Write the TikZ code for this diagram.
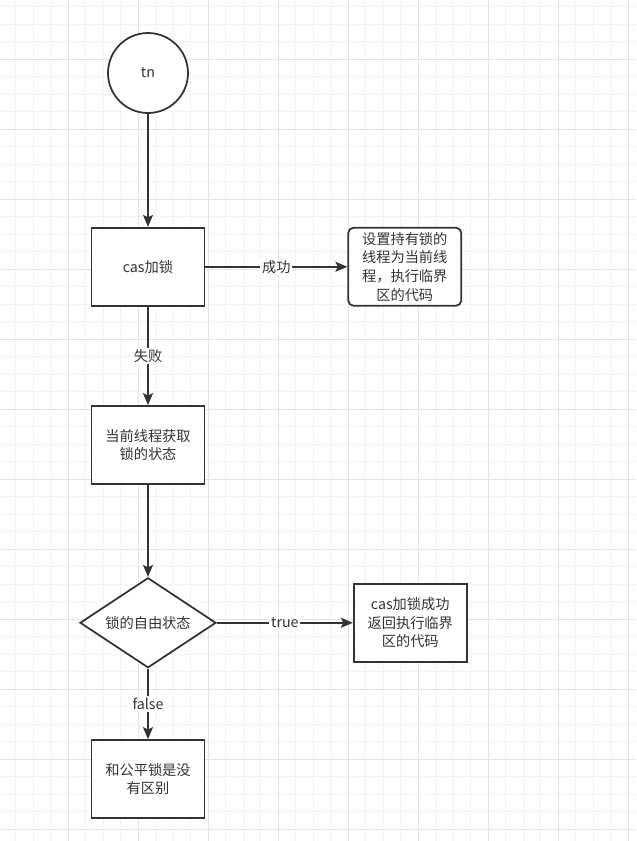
\documentclass[tikz,border=0pt]{standalone}
\usepackage{fontspec}
\setmainfont{Noto Sans CJK SC}
\usepackage{xcolor}
\usepackage{tikz}
\usetikzlibrary{shapes,arrows.meta,positioning,calc}
\definecolor{lineDark}{RGB}{51, 51, 51}
\definecolor{gridMinor}{RGB}{243, 243, 243}
\definecolor{gridMajor}{RGB}{228, 228, 228}
\tikzset{
  fbox/.style={draw=lineDark,line width=1pt,fill=white,align=center,text=lineDark,
               font=\fontsize{8.1}{10.6}\selectfont,
               minimum width=2.26cm,minimum height=1.56cm,inner sep=1pt},
  rbox/.style={fbox,rounded corners=3pt},
  startc/.style={fbox,circle,minimum size=1.6cm},
  decide/.style={fbox,diamond,aspect=1.5,minimum width=2.72cm,minimum height=1.8cm,inner sep=0pt},
  arr/.style={-{Stealth[length=2.4mm,width=2mm,inset=0.5mm]},line width=1pt,draw=lineDark},
  lbl/.style={fill=white,text=lineDark,font=\fontsize{8.1}{10.6}\selectfont,inner sep=1pt},
}

\begin{document}
\begin{tikzpicture}[node distance=2cm]
        \useasboundingbox (0,0) rectangle (12.72,-16.82);
        \fill[white] (0,0) rectangle (12.72,-16.82);
        % background grid
        \foreach \i in {0,...,35}
          \draw[gridMinor,line width=0.4pt] ({0.316+0.35*\i},0) -- ++(0,-16.82);
        \foreach \j in {0,...,47}
          \draw[gridMinor,line width=0.4pt] (0,{-0.13-0.35*\j}) -- ++(12.72,0);
        \foreach \i in {0,...,8}
          \draw[gridMajor,line width=0.4pt] ({1.366+1.4*\i},0) -- ++(0,-16.82);
        \foreach \j in {0,...,11}
          \draw[gridMajor,line width=0.4pt] (0,{-1.18-1.4*\j}) -- ++(12.72,0);

        \node[startc] (tn) at (2.96,-1.46) {tn};
        \node[fbox,below=2.26cm of tn] (lock) {cas加锁};
        \node[rbox,right=2.84cm of lock] (owner) {设置持有锁的\\线程为当前线\\程，执行临界\\区的代码};
        \node[fbox,below=1.97cm of lock] (state) {当前线程获取\\锁的状态};
        \node[decide,below=1.84cm of state] (free) {锁的自由状态};
        \node[fbox,right=2.72cm of free] (ok) {cas加锁成功\\返回执行临界\\区的代码};
        \node[fbox,below=1.41cm of free] (fair) {和公平锁是没\\有区别};

        \draw[arr](tn)--(lock);
        \draw[arr](lock)--node[lbl]{成功}(owner);
        \draw[arr](lock)--node[lbl]{失败}(state);
        \draw[arr](state)--(free);
        \draw[arr](free)--node[lbl]{true}(ok);
        \draw[arr](free)--node[lbl]{false}(fair);
      \end{tikzpicture}
\end{document}
